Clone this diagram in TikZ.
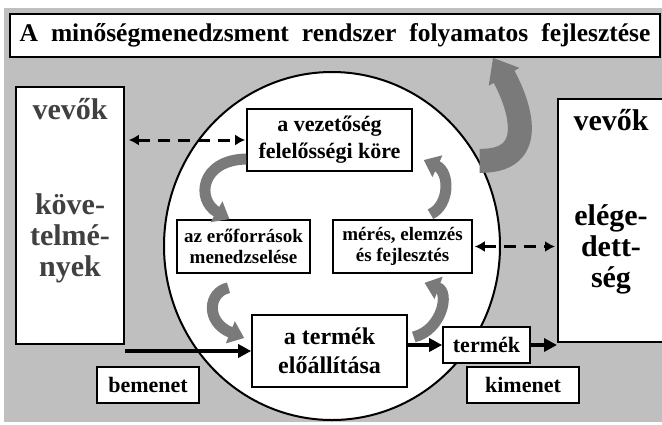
\documentclass[tikz,border=0pt]{standalone}
\usepackage{fontspec}
\setmainfont{Liberation Serif}
\usetikzlibrary{positioning,arrows.meta,shapes.geometric}

\tikzset{
  box/.style={draw, fill=white, line width=1.6pt, inner sep=0pt, align=center},
  side/.style={font=\fontsize{30}{31}\selectfont\bfseries, align=center, inner sep=0pt},
  dasharrow/.style={line width=3pt, dash pattern=on 12pt off 8pt,
    {Latex[length=10pt,width=11pt]}-{Latex[length=10pt,width=11pt]}},
  flow/.style={line width=3.6pt, -{Triangle[length=13pt,width=13pt]}},
  looparrow/.style={draw=black!52, line width=11pt, -{Triangle[length=15pt,width=23pt]}},
}

\begin{document}
\begin{tikzpicture}[x=1pt,y=-1pt]
  \useasboundingbox (0,0) rectangle (662,424);
  \fill[black!25] (4,8) rectangle (662,422);
  \node[box, minimum width=650pt, minimum height=43pt, font=\fontsize{25.5}{28}\selectfont\bfseries] (title) at (335,35.5) {\spaceskip=13pt\relax A minőségmenedzsment rendszer folyamatos fejlesztése};
  \node[draw, ellipse, fill=white, line width=2pt, minimum width=336pt, minimum height=348pt, inner sep=0pt] (cycle) at (332,246) {};

  % customers
  \node[box, minimum width=108pt, minimum height=257pt] (custreq) at (70,215.5) {};
  \node[box, minimum width=112pt, minimum height=243pt, anchor=north west] (custsat) at (557,98) {};
  \node[side, text=black!75, anchor=base] (reqhead) at (70,119) {vevők};
  \node[side, text=black!75] (reqbody) at (70,238) {köve-\\telmé-\\nyek};
  \node[side, anchor=base] (sathead) at (611,130) {vevők};
  \node[side] (satbody) at (611,249) {elége-\\dett-\\ség};

  % processes
  \node[box, minimum width=165pt, minimum height=62pt, font=\fontsize{22}{27}\selectfont\bfseries] (lead) at (329.5,140) {a vezetőség\\felelősségi köre};
  \node[box, minimum width=133pt, minimum height=53pt, font=\fontsize{19}{21}\selectfont\bfseries] (res) at (243.5,246.5) {az erőforrások\\menedzselése};
  \node[box, minimum width=139pt, minimum height=53pt, font=\fontsize{19}{21}\selectfont\bfseries] (meas) at (402.5,246.5) {mérés, elemzés\\és fejlesztés};
  \node[box, minimum width=155pt, minimum height=72pt, font=\fontsize{24}{29}\selectfont\bfseries] (prod) at (329.5,351) {a termék\\előállítása};
  \node[box, minimum width=87pt, minimum height=36pt, font=\fontsize{22}{24}\selectfont\bfseries] (product) at (486.5,345) {termék};
  \node[box, minimum width=102pt, minimum height=36pt, font=\fontsize{22}{24}\selectfont\bfseries] (inlabel) at (148,385) {bemenet};
  \node[box, minimum width=112pt, minimum height=36pt, font=\fontsize{22}{24}\selectfont\bfseries] (outlabel) at (523,385) {kimenet};

  \draw[dasharrow, shorten <=4pt, shorten >=1pt] (lead.west -| custreq.east) -- (lead.west);
  \draw[dasharrow, shorten <=2pt, shorten >=2pt] (meas.east) -- (meas.east -| custsat.west);
  \draw[flow] (prod.west -| custreq.east) -- (prod.west);
  \draw[flow] (prod.east |- product.west) -- (product.west);
  \draw[flow] (product.east) -- (product.east -| custsat.west);

  % improvement loop
  \draw[looparrow] ([yshift=-19pt]lead.west) .. controls (200,160) and (196,200) .. ([xshift=-14pt]res.north);
  \draw[looparrow] ([xshift=-15pt,yshift=-14pt]res.south) .. controls (208,292) and (205,322) .. ([xshift=-7pt,yshift=13pt]prod.west);
  \draw[looparrow] ([xshift=6pt,yshift=14pt]prod.east) .. controls (442,330) and (450,292) .. ([xshift=22pt,yshift=-9pt]meas.south);
  \draw[looparrow] ([xshift=28pt,yshift=5pt]meas.north) .. controls (450,205) and (450,172) .. ([xshift=11pt,yshift=-20pt]lead.east);
  \draw[looparrow, line width=24pt, -{Triangle[length=22pt,width=34pt]}] (cycle.30) .. controls (548,162) and (510,87) .. ([xshift=158pt]title.south);
\end{tikzpicture}
\end{document}
